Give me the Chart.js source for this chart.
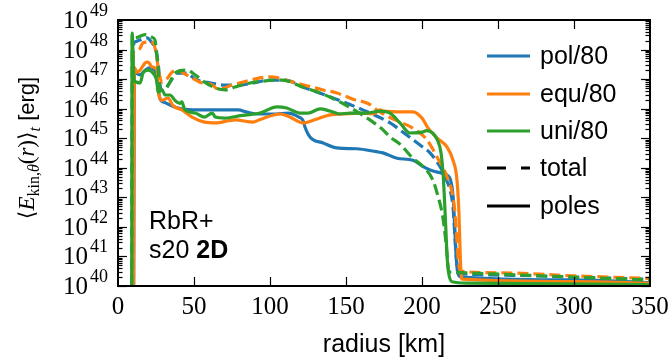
<!DOCTYPE html>
<html>
<head>
<meta charset="utf-8">
<script src="https://cdn.jsdelivr.net/npm/chart.js@4.4.0/dist/chart.umd.min.js"></script>
<style>
  body { margin: 0; background: #fff; }
  canvas { display: block; }
</style>
</head>
<body>
<canvas id="chart" width="669" height="364"></canvas>
<script>
// radius [km] and energy [erg]
const polTotalR = [9.5, 10, 11, 14.5, 19, 22, 25, 26.5, 28, 30, 33, 36, 39, 44, 52, 61, 70, 80, 90, 100, 110, 121.7, 141.5, 161, 179, 187.5, 198.7, 205.3, 211.8, 216, 218.4, 220.4, 221.5, 222.5, 223.5, 226, 260, 300, 350];
const polTotalE = [3e39, 1e48, 1.8e48, 2.1e48, 2.5e48, 1.8e48, 8.9e47, 3.2e47, 5e46, 4e46, 6.3e46, 1.1e47, 1.6e47, 1.6e47, 9.3e46, 7.4e46, 6.3e46, 6.3e46, 7.6e46, 9.3e46, 9.3e46, 5.4e46, 2.3e46, 9.1e45, 3.3e45, 1.6e45, 5.9e44, 3.2e44, 1.1e44, 4e43, 1.8e43, 4.7e42, 6.3e41, 1e41, 3.2e40, 2.6e40, 2.3e40, 2e40, 1.7e40];

const polPolesR = [10.3, 10.8, 12, 14.5, 17.8, 21, 24.3, 26, 27.6, 31, 39.5, 48.7, 63.5, 79, 85, 92, 104, 112, 119, 121.7, 123, 126.3, 135, 144, 157, 170, 174.3, 183.6, 194, 200.7, 207.2, 213, 216.5, 219, 220.5, 221.5, 222.5, 223.5, 226, 300, 350];
const polPolesE = [3e39, 1.8e47, 1.6e47, 1.4e47, 2e47, 2.4e47, 2e47, 6.3e46, 2.2e46, 1.6e46, 1.05e46, 9.1e45, 9.1e45, 9.1e45, 7.6e45, 6.6e45, 6.6e45, 7.1e45, 5.2e45, 4e45, 2.4e45, 1.1e45, 6.9e44, 4.7e44, 4.4e44, 3.5e44, 3.2e44, 2.1e44, 1.8e44, 1.1e44, 7.8e43, 6.6e43, 5.6e43, 3.5e43, 1e43, 1e42, 1e41, 2.8e40, 2e40, 1.6e40, 1.3e40];

const equTotalR = [9.5, 10, 13, 14.5, 16.5, 19.7, 23, 25, 27, 29, 32, 35.5, 39.5, 43, 54, 62, 66, 75, 82.3, 93.4, 100, 115, 134.9, 144, 154.6, 164.5, 172, 183, 194, 203.3, 209.9, 216.5, 220.4, 221.8, 223, 224, 225.5, 250, 300, 350];
const equTotalE = [3e39, 7.9e47, 9.8e47, 1.1e48, 1.7e48, 1.8e48, 1.7e48, 7.9e47, 1.6e47, 7.9e46, 1e47, 1.7e47, 2e47, 1.6e47, 7.9e46, 6.3e46, 4.5e46, 6.3e46, 7.9e46, 1.1e47, 1.2e47, 7.9e46, 4.3e46, 3.4e46, 2.1e46, 1.5e46, 7.9e45, 4e45, 2.2e45, 8.7e44, 2.3e44, 4.9e43, 1e43, 2.5e42, 3.2e41, 6.3e40, 3.2e40, 2.8e40, 2.2e40, 1.8e40];

const equPolesR = [10.2, 10.8, 12.5, 14.5, 17.8, 19.7, 22.4, 25.7, 26.3, 29, 33, 36, 42, 48.7, 57, 64, 77, 88.8, 93, 106.6, 113, 121.7, 131, 139.5, 148, 159, 167.8, 172.4, 174.3, 187.5, 194, 200, 204, 210, 216.5, 220.4, 223, 224.3, 225, 225.6, 226.5, 300, 350];
const equPolesE = [3e39, 2.5e47, 1.7e47, 2e47, 3.5e47, 3.8e47, 2.6e47, 2e47, 5.4e46, 1.9e46, 2.3e46, 1.3e46, 9.1e45, 5.2e45, 3.5e45, 3.3e45, 4.2e45, 3.5e45, 4.2e45, 6.6e45, 5.2e45, 3.3e45, 4.5e45, 6.2e45, 6.6e45, 7.1e45, 6.6e45, 9.1e45, 8.3e45, 7.8e45, 7.8e45, 4.8e45, 2.2e45, 1e45, 5e44, 1.8e44, 3.9e43, 3e42, 2e41, 3.2e40, 1.7e40, 1.4e40, 1.26e40];

const uniTotalR = [9.0, 9.4, 11, 13, 17.8, 22.4, 24.3, 26, 27.6, 30, 31, 34.2, 37.5, 45.4, 50.7, 57, 64, 70.4, 77, 87, 108, 123, 133, 148, 152.6, 167.8, 174, 179, 185.5, 194, 200.7, 207, 210.5, 213.5, 215.5, 216.8, 217.5, 220, 260, 300, 350];
const uniTotalE = [3e39, 3.2e48, 2.5e48, 2.6e48, 3.2e48, 2.6e48, 2.1e48, 4e47, 5e46, 4e46, 4.3e46, 7.9e46, 1.6e47, 2e47, 1.4e47, 7.9e46, 5e46, 4.3e46, 5.4e46, 7.4e46, 9.3e46, 5e46, 3.4e46, 1.5e46, 1.1e46, 3.5e45, 2e45, 1.1e45, 6.3e44, 2.1e44, 1.1e44, 4e43, 1.1e43, 2.5e42, 4e41, 7.9e40, 3.2e40, 2.9e40, 2.4e40, 2e40, 1.6e40];

const uniPolesR = [9.0, 9.3, 10.5, 11.6, 14.5, 16.5, 19.7, 23, 25.7, 26.3, 29, 31, 34.2, 37.5, 40.8, 42, 44, 50.7, 57, 62, 64, 70.4, 80.3, 93.4, 104.6, 111, 119.7, 125, 133, 139.5, 146, 152.6, 163.8, 172.4, 179, 185.5, 192, 200, 203, 207, 210, 212.5, 214, 215, 215.8, 216.5, 217.5, 219.7, 230, 350];
const uniPolesE = [1e39, 3.6e48, 1e47, 8.1e46, 7.4e46, 1.6e47, 2e47, 1.6e47, 7.4e46, 3.6e46, 4.3e46, 2.9e46, 2.9e46, 1.9e46, 1.5e46, 1.7e46, 9.1e45, 7.1e45, 5.2e45, 7.1e45, 5.2e45, 4.8e45, 5.8e45, 7.1e45, 1.15e46, 1.05e46, 7.1e45, 7.1e45, 9.8e45, 8.3e45, 6.6e45, 7.1e45, 7.1e45, 8.3e45, 7.1e45, 3.3e45, 1.5e45, 1.6e45, 1.8e45, 1.5e45, 8.9e44, 3.2e44, 5e43, 5e42, 6.3e41, 1e41, 2.8e40, 1.4e40, 1.26e40, 1.12e40];

const xTicks = [0, 50, 100, 150, 200, 250, 300, 350];
const yDecades = [40, 41, 42, 43, 44, 45, 46, 47, 48, 49];
const legendLabels = ['pol/80', 'equ/80', 'uni/80', 'total', 'poles'];

const BLUE = '#1f77b4', ORANGE = '#ff7f0e', GREEN = '#2ca02c';
const DASH = [11, 5];
const SERIF = '"Liberation Serif", "DejaVu Serif", serif';
const SANS = '"Liberation Sans", Arial, sans-serif';

function pts(r, e) {
    return r.map((x, i) => ({ x: x, y: e[i] }));
}

function line(label, r, e, color, dashed) {
    return {
        label: label,
        data: pts(r, e),
        borderColor: color,
        borderWidth: 3.2,
        borderDash: dashed ? DASH : [],
        pointRadius: 0,
        fill: false,
        cubicInterpolationMode: 'monotone'
    };
}

// first dataset is drawn on top
var datasets = [
    line('uni poles', uniPolesR, uniPolesE, GREEN, false),
    line('uni total', uniTotalR, uniTotalE, GREEN, true),
    line('equ poles', equPolesR, equPolesE, ORANGE, false),
    line('equ total', equTotalR, equTotalE, ORANGE, true),
    line('pol poles', polPolesR, polPolesE, BLUE, false),
    line('pol total', polTotalR, polTotalE, BLUE, true)
];

function seg(ctx, x1, y1, x2, y2) {
    ctx.beginPath();
    ctx.moveTo(x1, y1);
    ctx.lineTo(x2, y2);
    ctx.stroke();
}

const decor = {
    id: 'decor',
    afterDraw(chart) {
        const ctx = chart.ctx;
        const a = chart.chartArea;
        const xs = chart.scales.x, ys = chart.scales.y;
        ctx.save();

        // ticks pointing inward
        ctx.strokeStyle = '#000';
        ctx.lineWidth = 1.2;
        xTicks.forEach(v => {
            if (v === xTicks[0] || v === xTicks[xTicks.length - 1]) return;
            var px = Math.round(xs.getPixelForValue(v)) + 0.5;
            seg(ctx, px, a.bottom, px, a.bottom - 9);
            seg(ctx, px, a.top, px, a.top + 9);
        });
        for (var d = yDecades[0]; d < yDecades[yDecades.length - 1]; d++) {
            for (var m = 1; m <= 9; m++) {
                var py = Math.round(ys.getPixelForValue(m * Math.pow(10, d))) + 0.5;
                var len = m === 1 ? 9 : 4.5;
                seg(ctx, a.left, py, a.left + len, py);
                seg(ctx, a.right, py, a.right - len, py);
            }
        }

        // frame
        ctx.lineWidth = 2;
        ctx.strokeRect(a.left, a.top, a.right - a.left, a.bottom - a.top);

        // y tick labels 10^n
        ctx.fillStyle = '#000';
        ctx.textBaseline = 'alphabetic';
        ctx.textAlign = 'left';
        yDecades.forEach(n => {
            var py = ys.getPixelForValue(Math.pow(10, n));
            ctx.font = '18px ' + SERIF;
            var ew = ctx.measureText(String(n)).width;
            ctx.font = '25px ' + SERIF;
            var bw = ctx.measureText('10').width;
            var x0 = 108 - ew - bw - 2;
            ctx.fillText('10', x0, py + 8);
            ctx.font = '18px ' + SERIF;
            ctx.fillText(String(n), x0 + bw + 2, py - 4);
        });

        // x axis title
        ctx.font = '25px ' + SANS;
        ctx.textAlign = 'center';
        ctx.fillText('radius [km]', (a.left + a.right) / 2, 352);

        // y axis title, rotated
        var parts = [
            { t: '\u27e8', f: '22px ' + SERIF, dy: 0 },
            { t: 'E', f: 'italic 23px ' + SERIF, dy: 0 },
            { t: 'kin,', f: '16px ' + SERIF, dy: 5 },
            { t: '\u03b8', f: 'italic 16px ' + SERIF, dy: 5 },
            { t: '(', f: '23px ' + SERIF, dy: 0 },
            { t: 'r', f: 'italic 23px ' + SERIF, dy: 0 },
            { t: ')', f: '23px ' + SERIF, dy: 0 },
            { t: '\u27e9', f: '22px ' + SERIF, dy: 0 },
            { t: 't', f: 'italic 16px ' + SERIF, dy: 6 },
            { t: ' [erg]', f: '22px ' + SANS, dy: 0 }
        ];
        var total = 0;
        parts.forEach(p => { ctx.font = p.f; p.w = ctx.measureText(p.t).width; total += p.w; });
        ctx.translate(34, 148);
        ctx.rotate(-Math.PI / 2);
        ctx.textAlign = 'left';
        var cx = -total / 2;
        parts.forEach(p => { ctx.font = p.f; ctx.fillText(p.t, cx, p.dy); cx += p.w; });
        ctx.setTransform(1, 0, 0, 1, 0, 0);

        // annotation
        ctx.textAlign = 'left';
        ctx.font = '25px ' + SANS;
        ctx.fillText('RbR+', 149, 229);
        ctx.fillText('s20 ', 149, 258);
        var sw = ctx.measureText('s20 ').width;
        ctx.font = 'bold 25px ' + SANS;
        ctx.fillText('2D', 149 + sw, 258);

        // legend
        var rows = [56, 94, 131, 168, 206];
        var legendColors = [BLUE, ORANGE, GREEN, '#000', '#000'];
        ctx.font = '25px ' + SANS;
        ctx.textBaseline = 'middle';
        legendLabels.forEach((lab, i) => {
            ctx.strokeStyle = legendColors[i];
            ctx.lineWidth = 3.2;
            ctx.setLineDash(lab === 'total' ? [19, 15] : []);
            seg(ctx, 487, rows[i], 530, rows[i]);
            ctx.setLineDash([]);
            ctx.fillText(lab, 540, rows[i] + 1);
        });
        ctx.restore();
    }
};

new Chart(document.getElementById('chart'), {
    type: 'line',
    data: { datasets: datasets },
    options: {
        responsive: false,
        animation: false,
        layout: { padding: { top: 20, right: 19, left: 0, bottom: 0 } },
        plugins: { legend: { display: false }, tooltip: { enabled: false } },
        scales: {
            x: {
                type: 'linear',
                min: 0,
                max: 350,
                afterBuildTicks: s => { s.ticks = xTicks.map(v => ({ value: v })); },
                ticks: { color: '#000', padding: 6, font: { family: SERIF, size: 25 } },
                grid: { display: false, drawTicks: false },
                border: { display: false },
                afterFit: s => { s.height = 78; s.paddingLeft = 0; s.paddingRight = 0; }
            },
            y: {
                type: 'logarithmic',
                min: 1e40,
                max: 1e49,
                ticks: { display: false },
                grid: { display: false, drawTicks: false },
                border: { display: false },
                afterFit: s => { s.width = 118; }
            }
        }
    },
    plugins: [decor]
});
</script>
</body>
</html>
